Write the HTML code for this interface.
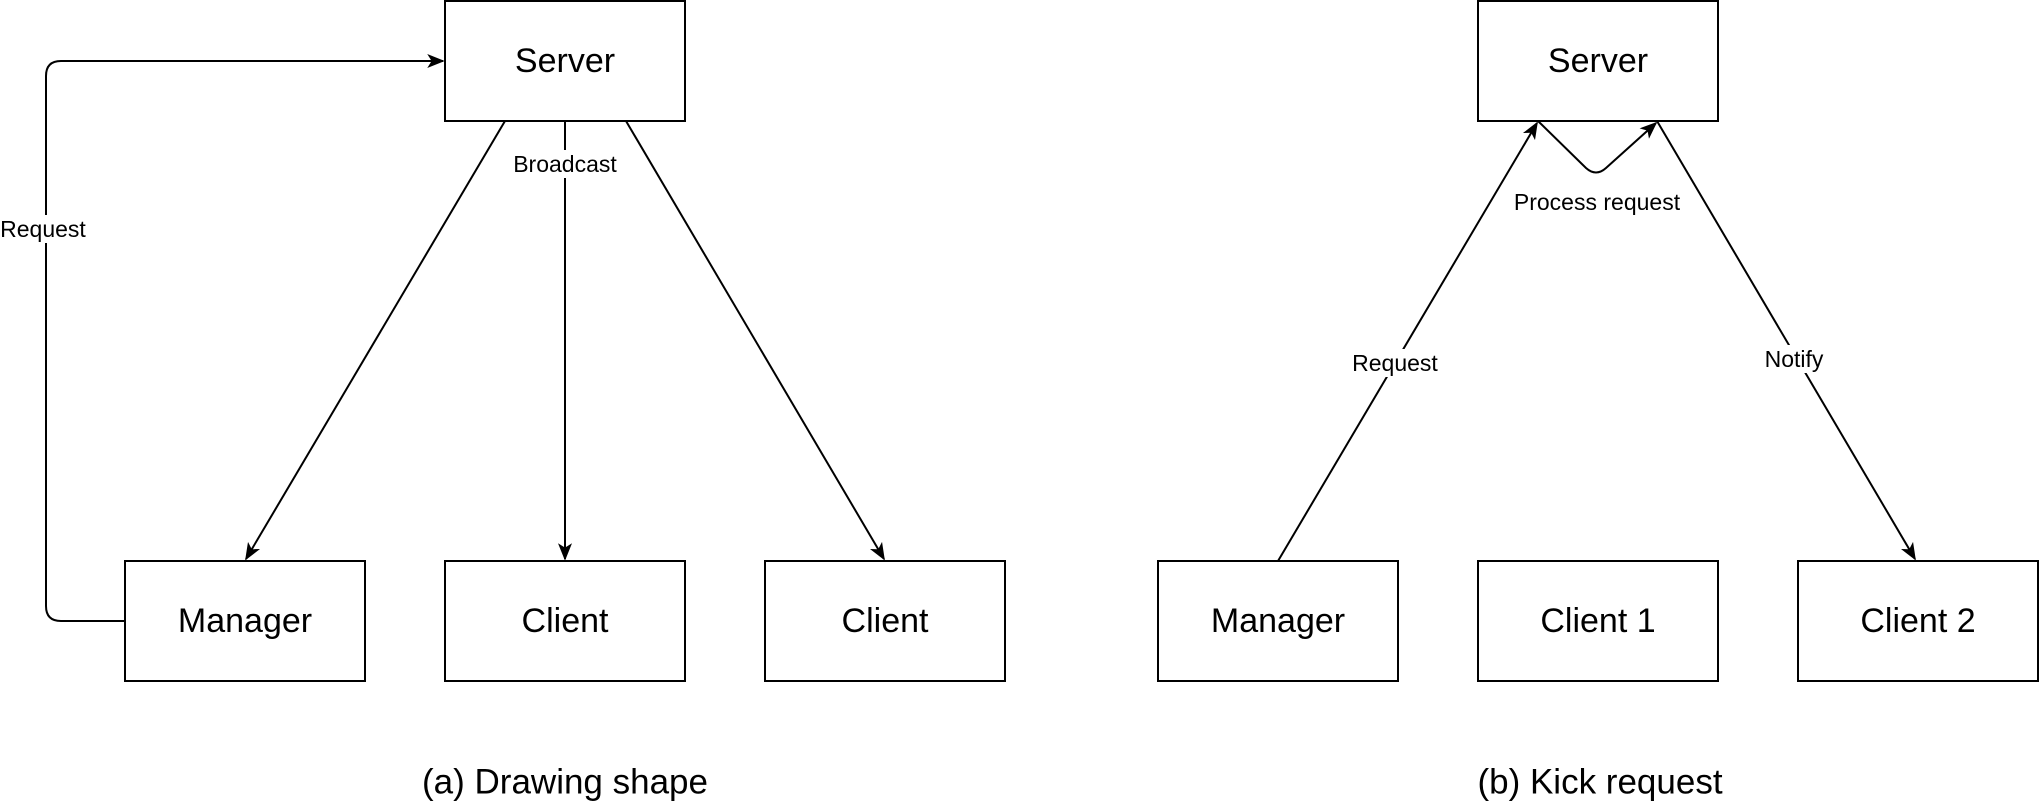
<!DOCTYPE html>
<html><head><style>
html,body{margin:0;padding:0;background:#fff;}
svg{display:block}
text{font-family:"Liberation Sans",Arial,sans-serif;fill:#000}
</style></head><body>
<svg width="2040" height="804" viewBox="0 0 2040 804" xmlns="http://www.w3.org/2000/svg">
<defs>
<marker id="ar" viewBox="0 0 20 16" refX="18" refY="8" markerWidth="18" markerHeight="14" markerUnits="userSpaceOnUse" orient="auto">
<path d="M0,0 L20,8 L0,16 L5,8 Z" fill="#000"/>
</marker>
</defs>
<g fill="#fff" stroke="#000" stroke-width="2">
<rect x="445" y="1" width="240" height="120"/>
<rect x="125" y="561" width="240" height="120"/>
<rect x="445" y="561" width="240" height="120"/>
<rect x="765" y="561" width="240" height="120"/>
<rect x="1478" y="1" width="240" height="120"/>
<rect x="1158" y="561" width="240" height="120"/>
<rect x="1478" y="561" width="240" height="120"/>
<rect x="1798" y="561" width="240" height="120"/>
</g>
<g fill="none" stroke="#000" stroke-width="2">
<line x1="505" y1="121" x2="246" y2="559" marker-end="url(#ar)"/>
<line x1="565" y1="121" x2="565" y2="559" marker-end="url(#ar)"/>
<line x1="626" y1="121" x2="884" y2="559" marker-end="url(#ar)"/>
<path d="M125,621 H61 Q46,621 46,606 V76 Q46,61 61,61 H443" marker-end="url(#ar)"/>
<line x1="1278" y1="561" x2="1537" y2="123" marker-end="url(#ar)"/>
<line x1="1657" y1="121" x2="1915" y2="559" marker-end="url(#ar)"/>
<path d="M1538,121 L1586,168 Q1596,177 1606,168 L1656,123" marker-end="url(#ar)"/>
</g>
<g font-size="34" text-anchor="middle" dominant-baseline="central">
<text x="565" y="61">Server</text>
<text x="245" y="621">Manager</text>
<text x="565" y="621">Client</text>
<text x="885" y="621">Client</text>
<text x="1598" y="61">Server</text>
<text x="1278" y="621">Manager</text>
<text x="1598" y="621">Client 1</text>
<text x="1918" y="621">Client 2</text>
</g>
<g font-size="23" text-anchor="middle" dominant-baseline="central">
<rect x="510" y="150" width="110" height="28" fill="#fff"/>
<text x="565" y="164">Broadcast</text>
<rect x="0" y="215" width="88" height="28" fill="#fff"/>
<text x="43" y="229">Request</text>
<rect x="1350" y="349" width="90" height="28" fill="#fff"/>
<text x="1395" y="363">Request</text>
<rect x="1762" y="345" width="64" height="28" fill="#fff"/>
<text x="1794" y="359">Notify</text>
<text x="1597" y="202">Process request</text>
</g>
<g font-size="35" text-anchor="middle" dominant-baseline="central">
<text x="565" y="782">(a) Drawing shape</text>
<text x="1600" y="782">(b) Kick request</text>
</g>
</svg>
</body></html>
